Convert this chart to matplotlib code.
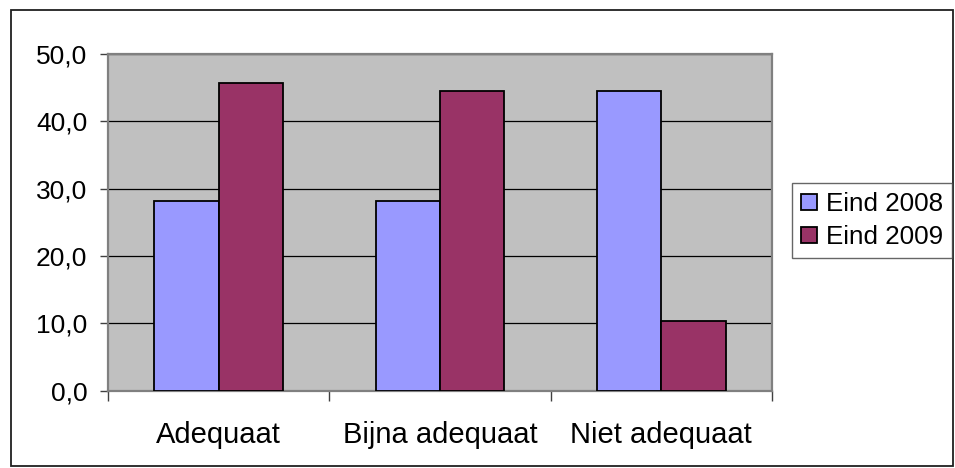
import matplotlib
matplotlib.use("Agg")
import matplotlib.pyplot as plt
import numpy as np
from matplotlib.patches import Rectangle
from matplotlib.ticker import FuncFormatter

# data
categories = ["Adequaat", "Bijna adequaat", "Niet adequaat"]
series_names = ["Eind 2008", "Eind 2009"]
eind_2008 = [28.2, 28.2, 44.5]
eind_2009 = [45.7, 44.5, 10.3]
y_ticks = [0, 10, 20, 30, 40, 50]

colors = ["#9999FF", "#993366"]

plt.rcParams['font.family'] = ['Liberation Sans', 'DejaVu Sans']

W, H = 955, 468
fig = plt.figure(figsize=(W / 100, H / 100), dpi=100)

# plot area in pixels
left, top, right, bottom = 108, 54, 772, 390.5
ax = fig.add_axes([left / W, 1 - bottom / H, (right - left) / W, (bottom - top) / H])
ax.set_facecolor("#C0C0C0")

x = np.arange(len(categories))
bw = 0.29
ax.bar(x - bw / 2, eind_2008, bw, color=colors[0], edgecolor="black", linewidth=1.3,
       label=series_names[0], zorder=3)
ax.bar(x + bw / 2, eind_2009, bw, color=colors[1], edgecolor="black", linewidth=1.3,
       label=series_names[1], zorder=3)

ax.set_xlim(-0.5, len(categories) - 0.5)
ax.set_ylim(0, 50)
ax.set_yticks(y_ticks)
ax.yaxis.set_major_formatter(FuncFormatter(lambda v, p: f"{v:.1f}".replace(".", ",")))
ax.yaxis.grid(True, color="black", linewidth=0.9, zorder=1)
ax.set_axisbelow(True)

ax.set_xticks(x)
ax.set_xticklabels(categories)
ax.set_xticks(np.arange(len(categories) + 1) - 0.5, minor=True)
ax.tick_params(axis="x", which="major", length=0, pad=22, labelsize=21)
ax.tick_params(axis="x", which="minor", length=7.2, width=1.0, color="#404040")
ax.tick_params(axis="y", length=5.8, width=1.0, color="#404040", pad=9, labelsize=19)

for s in ax.spines.values():
    s.set_color("#808080")
    s.set_linewidth(1.6)

leg = fig.legend(loc="upper left", bbox_to_anchor=(792 / W, 1 - 183 / H),
                 fontsize=18.7, frameon=True, fancybox=False, edgecolor="#404040",
                 handlelength=0.6, handleheight=0.6, handletextpad=0.35,
                 labelspacing=0.35, borderpad=0.35, borderaxespad=0)
leg.get_frame().set_linewidth(1.0)

# outer chart frame
fig.add_artist(Rectangle((11 / W, 1 - 466 / H), (953 - 11) / W, (466 - 10) / H,
                         transform=fig.transFigure, fill=False,
                         edgecolor="#202020", linewidth=1.3))

fig.savefig("out.png", dpi=100)
